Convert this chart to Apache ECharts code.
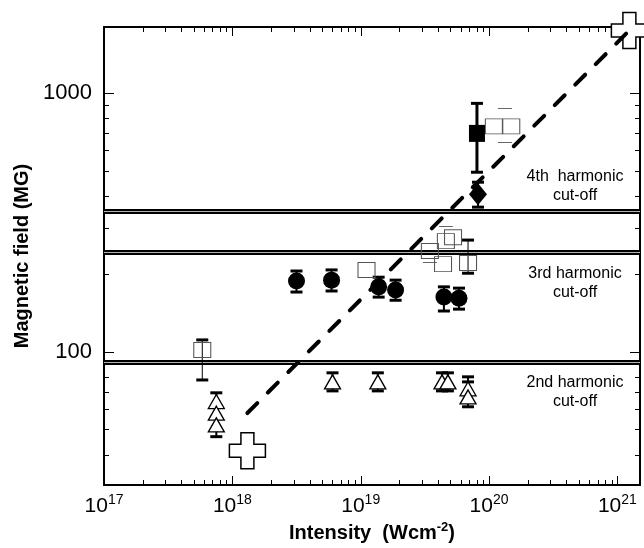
<!DOCTYPE html>
<html>
<head>
<meta charset="utf-8">
<script src="https://cdn.jsdelivr.net/npm/echarts@6/dist/echarts.min.js"></script>
<style>
html,body{margin:0;padding:0;background:#fff;}
#main{width:644px;height:548px;}
</style>
</head>
<body>
<div id="main"></div>
<script>
// axis ranges (log-log)
var xMin = 1e17, xMax = 1.5e21;
var yMin = 30.5, yMax = 1800;
var xDecades = [17, 18, 19, 20, 21];
var yDecades = [1, 2, 3];

// filled circles + error bars
var circles = [[3.16e18, 187.5], [5.93e18, 189], [1.38e19, 178], [1.87e19, 173], [4.45e19, 162.5], [5.83e19, 161]];
var circleErr = [[3.16e18, 170, 205], [5.93e18, 171.6, 207], [1.38e19, 162.5, 194], [1.87e19, 158, 189], [4.45e19, 143.6, 178], [5.83e19, 146, 176]];

// open triangles + error bars
var triangles = [[6.03e18, 76.4], [1.36e19, 76.4], [4.3e19, 76.4], [4.78e19, 76.4], [6.86e19, 71.8], [6.86e19, 66.8], [7.5e17, 64.1], [7.5e17, 57.8], [7.5e17, 52.1]];
var triangleErr = [[6.03e18, 70.5, 82.8], [1.36e19, 70.5, 82.8], [4.3e19, 70.5, 82.8], [4.78e19, 70.5, 82.8], [6.86e19, 64, 79.9], [6.86e19, 61.2, 76.4], [7.5e17, 46.9, 69.3]];

// filled square, filled diamond
var squareFilled = [[8.05e19, 698]];
var squareFilledErr = [[8.05e19, 494, 912]];
var diamonds = [[8.2e19, 406]];
var diamondErr = [[8.2e19, 362, 452]];

// open squares (grey outline)
var squareOpen = [[5.83e17, 101.5], [1.11e19, 207], [3.46e19, 244.8], [4.61e19, 267.5], [5.24e19, 277], [4.38e19, 218], [6.86e19, 220], [1.09e20, 743], [1.49e20, 743]];
var squareOpenErr = [[5.83e17, 77.7, 111], [6.86e19, 201, 270]];
var squareOpenCaps = [[4.61e19, 305.8], [3.46e19, 222], [1.33e20, 645], [1.33e20, 873]];

// open crosses and the B ~ I^0.5 dashed line
var crosses = [[1.31e18, 41.4], [1.24e21, 1746]];
var fitLine = [[1.31e18, 57.9], [1.24e21, 1746]];

// harmonic cut-off levels (MG)
var cutoffs = [350, 243, 91.5];
var cutoffLabels = ['4th  harmonic\ncut-off', '3rd harmonic\ncut-off', '2nd harmonic\ncut-off'];
var cutoffLabelY = [186, 283, 392];

var FONT = '"Liberation Sans", Arial, Helvetica, sans-serif';

function isDecade(v) {
    var e = Math.log10(v);
    return Math.abs(e - Math.round(e)) < 1e-6;
}

// tick positions 1..9 x 10^n
var xTickData = [];
xDecades.forEach(function (e) {
    for (var m = 1; m < 10; m++) {
        var v = m * Math.pow(10, e);
        if (v >= xMin && v <= xMax) xTickData.push([v, yMin, m == 1 ? 1 : 0]);
    }
});
var yTickData = [];
yDecades.forEach(function (e) {
    for (var m = 1; m < 10; m++) {
        var v = m * Math.pow(10, e);
        if (v >= yMin && v <= yMax) yTickData.push([xMin, v, m == 1 ? 1 : 0]);
    }
});

function errBar(color, stemW, capW, capH) {
    return function (params, api) {
        var x = api.value(0);
        var lo = api.coord([x, api.value(1)]);
        var hi = api.coord([x, api.value(2)]);
        var kids = [{
            type: 'line',
            shape: {x1: lo[0], y1: lo[1], x2: hi[0], y2: hi[1]},
            style: {stroke: color, lineWidth: stemW}
        }];
        [lo, hi].forEach(function (p) {
            kids.push({type: 'rect', shape: {x: p[0] - capW / 2, y: p[1] - capH / 2, width: capW, height: capH}, style: {fill: color}});
        });
        return {type: 'group', children: kids};
    };
}

var symPlus = 'path://M32,0H68V32H100V68H68V100H32V68H0V32H32Z';

var myChart = echarts.init(document.getElementById('main'), null, {renderer: 'canvas'});

var option = {
    animation: false,
    backgroundColor: '#fff',
    grid: {
        left: 104, right: 4, top: 27, bottom: 63,
        show: true, borderColor: '#000', borderWidth: 2,
        outerBoundsMode: 'none'
    },
    xAxis: {
        type: 'log', min: xMin, max: xMax,
        axisLine: {show: false}, axisTick: {show: false}, splitLine: {show: false},
        axisLabel: {
            margin: 8, color: '#000',
            formatter: function (v) {
                if (!isDecade(v)) return '';
                return '{b|10}{s|' + Math.round(Math.log10(v)) + '}';
            },
            rich: {
                b: {fontSize: 21, fontFamily: FONT, color: '#000', lineHeight: 26},
                s: {fontSize: 14, fontFamily: FONT, color: '#000', lineHeight: 14, verticalAlign: 'top'}
            }
        },
        name: '{t|Intensity  (Wcm}{s|-2}{t|)}',
        nameLocation: 'middle', nameGap: 34,
        nameTextStyle: {
            rich: {
                t: {fontSize: 20, fontWeight: 'bold', fontFamily: FONT, color: '#000', lineHeight: 24},
                s: {fontSize: 13, fontWeight: 'bold', fontFamily: FONT, color: '#000', lineHeight: 13, verticalAlign: 'top'}
            }
        }
    },
    yAxis: {
        type: 'log', min: yMin, max: yMax,
        axisLine: {show: false}, axisTick: {show: false}, splitLine: {show: false},
        axisLabel: {
            margin: 12, color: '#000', fontSize: 22, fontFamily: FONT,
            formatter: function (v) {
                if (!isDecade(v)) return '';
                return String(Math.round(v));
            }
        },
        name: 'Magnetic field (MG)',
        nameLocation: 'middle', nameGap: 70,
        nameTextStyle: {fontSize: 20, fontWeight: 'bold', fontFamily: FONT, color: '#000'}
    },
    graphic: cutoffLabels.map(function (t, i) {
        return {
            type: 'text', x: 575, y: cutoffLabelY[i], silent: true,
            style: {text: t, font: '16px ' + FONT, fill: '#000', align: 'center', verticalAlign: 'middle', lineHeight: 19}
        };
    }),
    series: [
        {   // axis ticks x (bottom + top)
            type: 'custom', silent: true, data: xTickData, encode: {x: 0, y: 1},
            renderItem: function (params, api) {
                var cs = params.coordSys;
                var px = Math.round(api.coord([api.value(0), yMin])[0]) + 0.5;
                var len = api.value(2) ? 9 : 5;
                var st = {stroke: '#000', lineWidth: 1};
                return {type: 'group', children: [
                    {type: 'line', shape: {x1: px, y1: cs.y + cs.height, x2: px, y2: cs.y + cs.height - len}, style: st},
                    {type: 'line', shape: {x1: px, y1: cs.y, x2: px, y2: cs.y + len}, style: st}
                ]};
            }
        },
        {   // axis ticks y (left + right)
            type: 'custom', silent: true, data: yTickData, encode: {x: 0, y: 1},
            renderItem: function (params, api) {
                var cs = params.coordSys;
                var py = Math.round(api.coord([xMin, api.value(1)])[1]) + 0.5;
                var len = api.value(2) ? 10 : 5;
                var st = {stroke: '#000', lineWidth: 1};
                return {type: 'group', children: [
                    {type: 'line', shape: {x1: cs.x, y1: py, x2: cs.x + len, y2: py}, style: st},
                    {type: 'line', shape: {x1: cs.x + cs.width, y1: py, x2: cs.x + cs.width - len, y2: py}, style: st}
                ]};
            }
        },
        {   // harmonic cut-off double lines
            type: 'custom', silent: true, encode: {x: 0, y: 1},
            data: cutoffs.map(function (v) { return [xMin, v]; }),
            renderItem: function (params, api) {
                var cs = params.coordSys;
                var py = Math.round(api.coord([xMin, api.value(1)])[1]) + 0.5;
                return {type: 'group', children: [
                    {type: 'line', shape: {x1: cs.x, y1: py, x2: cs.x + cs.width, y2: py}, style: {stroke: '#000', lineWidth: 5}},
                    {type: 'line', shape: {x1: cs.x, y1: py, x2: cs.x + cs.width, y2: py}, style: {stroke: '#b4b4b4', lineWidth: 1.2}}
                ]};
            }
        },
        {
            name: 'open squares', type: 'scatter', silent: true, data: squareOpen,
            symbol: 'rect', symbolSize: [17, 15],
            itemStyle: {color: 'rgba(255,255,255,0)', borderColor: '#555', borderWidth: 1, opacity: 1}
        },
        {
            type: 'custom', silent: true, data: squareOpenCaps, encode: {x: 0, y: 1},
            renderItem: function (params, api) {
                var p = api.coord([api.value(0), api.value(1)]);
                return {type: 'rect', shape: {x: p[0] - 7, y: Math.round(p[1]), width: 14, height: 1}, style: {fill: '#666'}};
            }
        },
        {type: 'custom', silent: true, data: squareOpenErr, encode: {x: 0, y: [1, 2]}, renderItem: errBar('#000', 1, 12, 3)},
        {type: 'custom', silent: true, data: circleErr, encode: {x: 0, y: [1, 2]}, renderItem: errBar('#000', 2, 12, 3)},
        {type: 'custom', silent: true, data: triangleErr, encode: {x: 0, y: [1, 2]}, renderItem: errBar('#000', 2, 12, 3)},
        {type: 'custom', silent: true, data: squareFilledErr, encode: {x: 0, y: [1, 2]}, renderItem: errBar('#000', 3, 12, 3)},
        {type: 'custom', silent: true, data: diamondErr, encode: {x: 0, y: [1, 2]}, renderItem: errBar('#000', 2, 12, 3)},
        {
            name: 'circles', type: 'scatter', silent: true, data: circles,
            symbol: 'circle', symbolSize: 17, itemStyle: {color: '#000', opacity: 1}
        },
        {
            name: 'triangles', type: 'scatter', silent: true, data: triangles,
            symbol: 'triangle', symbolSize: [16, 14],
            itemStyle: {color: '#fff', borderColor: '#000', borderWidth: 1.3, opacity: 1}
        },
        {
            name: 'filled square', type: 'scatter', silent: true, data: squareFilled,
            symbol: 'rect', symbolSize: [16, 17], itemStyle: {color: '#000', opacity: 1}
        },
        {
            name: 'diamond', type: 'scatter', silent: true, data: diamonds,
            symbol: 'diamond', symbolSize: [18, 22], itemStyle: {color: '#000', opacity: 1}
        },
        {
            name: 'fit', type: 'line', silent: true, data: fitLine, showSymbol: false,
            lineStyle: {color: '#000', width: 4, type: [14, 15], cap: 'round'}
        },
        {
            name: 'crosses', type: 'scatter', silent: true, data: crosses,
            symbol: symPlus, symbolSize: 36,
            itemStyle: {color: '#fff', borderColor: '#000', borderWidth: 1.5, opacity: 1}
        }
    ]
};

myChart.setOption(option);
</script>
</body>
</html>
